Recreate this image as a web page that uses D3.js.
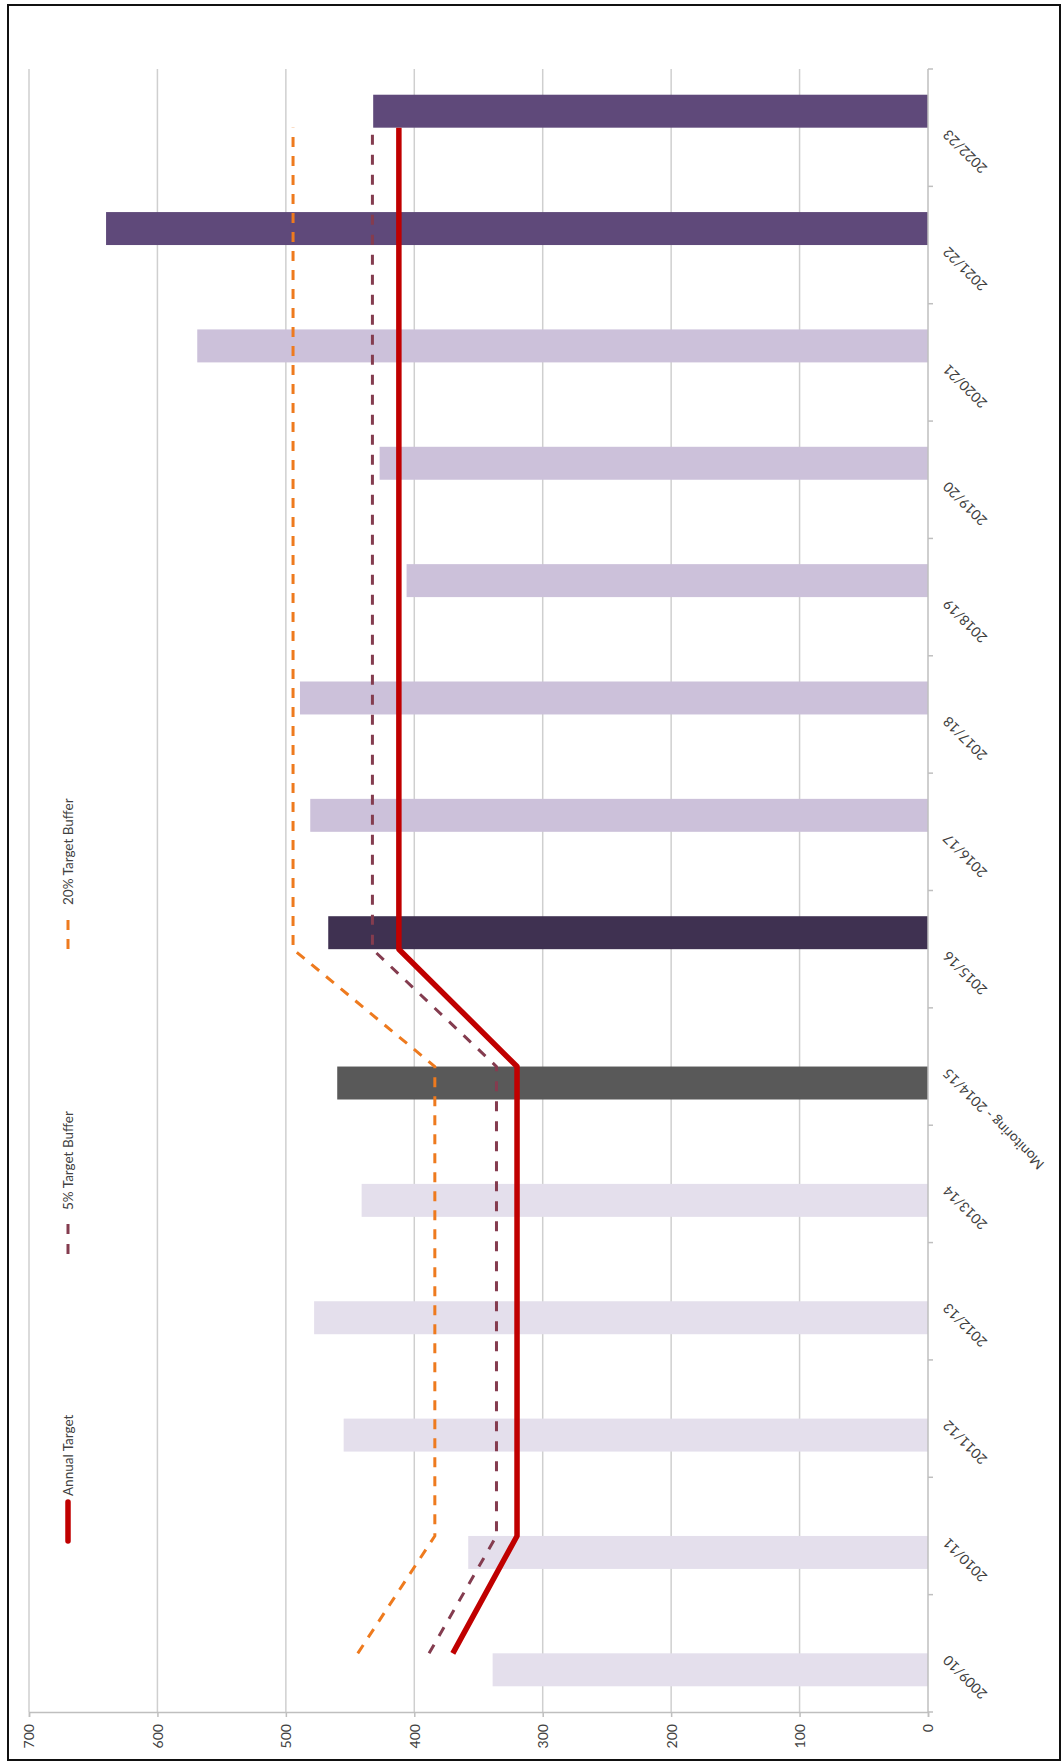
<!DOCTYPE html>
<html>
<head>
<meta charset="utf-8">
<script src="https://cdn.jsdelivr.net/npm/d3@7"></script>
<style>
  body { margin: 0; background: #fff; }
  svg { display: block; }
  text { font-family: Lato, "Open Sans", sans-serif; fill: #404040; }
</style>
</head>
<body>
<svg id="chart" width="1062" height="1762"></svg>
<script>
// ---- Data ----
const categories = ["2009/10", "2010/11", "2011/12", "2012/13", "2013/14", "Monitoring - 2014/15",
  "2015/16", "2016/17", "2017/18", "2018/19", "2019/20", "2020/21", "2021/22", "2022/23"];
const phases = ["earlier", "earlier", "earlier", "earlier", "earlier", "monitoring",
  "current", "supply", "supply", "supply", "supply", "supply", "later", "later"];
const completions = [339, 358, 455, 478, 441, 460, null, null, null, null, null, null, null, null];
const projections = [null, null, null, null, null, null, 467, 481, 489, 406, 427, 569, 640, 432];
const annualTarget = [370, 320, 320, 320, 320, 320, 412, 412, 412, 412, 412, 412, 412, 412];
const buffer5 = [388.5, 336, 336, 336, 336, 336, 432.6, 432.6, 432.6, 432.6, 432.6, 432.6, 432.6, 432.6];
const buffer20 = [444, 384, 384, 384, 384, 384, 494.4, 494.4, 494.4, 494.4, 494.4, 494.4, 494.4, 494.4];
const valueTicks = [0, 100, 200, 300, 400, 500, 600, 700];
const legendLabels = ["20% Target Buffer", "5% Target Buffer", "Annual Target"];

// ---- Layout ----
const plot = { left: 29, right: 928, top: 69, bottom: 1712 };
const svg = d3.select("#chart");

// outer frame
svg.append("rect")
  .attr("x", 8).attr("y", 5).attr("width", 1052).attr("height", 1755)
  .attr("fill", "none").attr("stroke", "#111").attr("stroke-width", 2);

// values run right-to-left, categories bottom-to-top
const x = d3.scaleLinear().domain([0, 700]).range([plot.right, plot.left]);
const y = d3.scaleBand().domain(categories).range([plot.bottom, plot.top]);
const bw = y.bandwidth();
const slot = d3.scaleBand().domain(["completions", "projections"])
  .range([bw, 0]).paddingInner(0).paddingOuter(0.78);
const center = c => y(c) + bw / 2;

const colour = d3.scaleOrdinal()
  .domain(["earlier", "monitoring", "current", "supply", "later"])
  .range(["#E4DFEC", "#595959", "#3F3151", "#CCC1DA", "#5F497A"]);

// gridlines
svg.append("g").selectAll("line")
  .data(valueTicks.filter(v => v > 0))
  .join("line")
  .attr("x1", d => x(d)).attr("x2", d => x(d))
  .attr("y1", plot.top).attr("y2", plot.bottom)
  .attr("stroke", "#cfcfcf").attr("stroke-width", 1.5);

// bars
const barData = [];
categories.forEach((c, i) => {
  if (completions[i] != null) barData.push({ c, v: completions[i], s: "completions", p: phases[i] });
  if (projections[i] != null) barData.push({ c, v: projections[i], s: "projections", p: phases[i] });
});
svg.append("g").selectAll("rect")
  .data(barData)
  .join("rect")
  .attr("x", d => x(d.v))
  .attr("width", d => x(0) - x(d.v))
  .attr("y", d => y(d.c) + slot(d.s))
  .attr("height", slot.bandwidth())
  .attr("fill", d => colour(d.p));

// value axis along the bottom
const xAxis = d3.axisBottom(x).tickValues(valueTicks).tickSize(5).tickFormat(d3.format("d"));
const gx = svg.append("g").attr("transform", `translate(0,${plot.bottom})`).call(xAxis);
gx.select(".domain").attr("stroke", "#bfbfbf").attr("stroke-width", 1.5);
gx.selectAll(".tick line").attr("stroke", "#bfbfbf").attr("stroke-width", 1.5);
gx.selectAll(".tick text")
  .attr("font-size", 14).attr("font-family", "Lato, sans-serif").attr("fill", "#404040")
  .attr("text-anchor", "end")
  .attr("y", 0).attr("dy", "0.35em")
  .attr("transform", "translate(0,12) rotate(-90)");

// category axis at value 0, ticks between categories
const gy = svg.append("g");
gy.append("line")
  .attr("x1", x(0)).attr("x2", x(0))
  .attr("y1", plot.top).attr("y2", plot.bottom)
  .attr("stroke", "#bfbfbf").attr("stroke-width", 1.5);
const boundaries = categories.map(c => y(c)).concat([plot.bottom]);
gy.selectAll("line.cat-tick")
  .data(boundaries)
  .join("line").attr("class", "cat-tick")
  .attr("x1", x(0)).attr("x2", x(0) + 5)
  .attr("y1", d => d).attr("y2", d => d)
  .attr("stroke", "#bfbfbf").attr("stroke-width", 1.5);
gy.selectAll("text")
  .data(categories)
  .join("text")
  .attr("text-anchor", "end")
  .attr("font-size", 14)
  .attr("transform", d => `translate(${x(0) + 21},${center(d) + 1}) rotate(-135)`)
  .text(d => d);

// target lines
const line = d3.line()
  .x(d => x(d.v))
  .y(d => center(d.c));
const toPts = arr => arr.map((v, i) => ({ c: categories[i], v }));

const lineStyles = [
  { data: buffer20, stroke: "#EE7A1E", width: 3, dash: "10,9" },
  { data: buffer5, stroke: "#843C4F", width: 3, dash: "10,10" },
  { data: annualTarget, stroke: "#C00000", width: 5.5, dash: null }
];
svg.append("g").selectAll("path")
  .data(lineStyles)
  .join("path")
  .attr("d", d => line(toPts(d.data)))
  .attr("fill", "none")
  .attr("stroke", d => d.stroke)
  .attr("stroke-width", d => d.width)
  .attr("stroke-dasharray", d => d.dash)
  .attr("stroke-linejoin", "round");

// legend (reads bottom-to-top, symbol below label)
const legendX = 68;
const legendRows = [
  { label: legendLabels[0], style: lineStyles[0], y0: 953, y1: 920, textY: 905, cap: "butt" },
  { label: legendLabels[1], style: lineStyles[1], y0: 1257, y1: 1224, textY: 1210, cap: "butt" },
  { label: legendLabels[2], style: lineStyles[2], y0: 1541, y1: 1502, textY: 1496, cap: "round" }
];
const lg = svg.append("g").selectAll("g").data(legendRows).join("g");
lg.append("line")
  .attr("x1", legendX).attr("x2", legendX)
  .attr("y1", d => d.y1).attr("y2", d => d.y0)
  .attr("stroke", d => d.style.stroke)
  .attr("stroke-width", d => d.style.width)
  .attr("stroke-dasharray", d => d.style.dash)
  .attr("stroke-linecap", d => d.cap);
lg.append("text")
  .attr("font-size", 13.5)
  .attr("dy", "0.35em")
  .attr("transform", d => `translate(${legendX},${d.textY}) rotate(-90)`)
  .text(d => d.label);
</script>
</body>
</html>
